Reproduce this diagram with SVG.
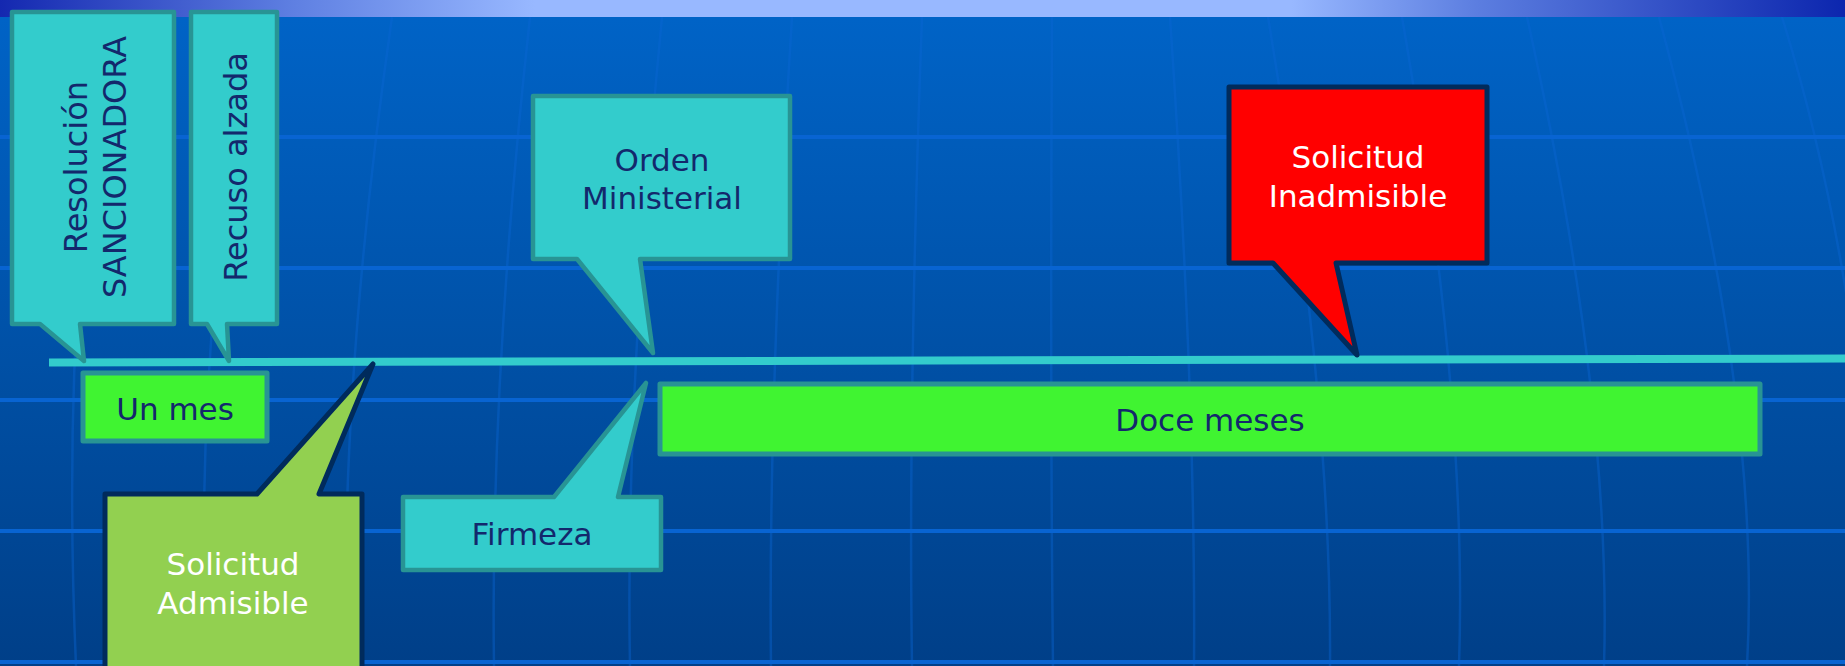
<svg xmlns="http://www.w3.org/2000/svg" width="1845" height="666" viewBox="0 0 1845 666">
  <defs>
    <linearGradient id="bg" x1="0" y1="0" x2="0" y2="1">
      <stop offset="0" stop-color="#0064c8"/>
      <stop offset="1" stop-color="#003f88"/>
    </linearGradient>
    <linearGradient id="band" x1="0" y1="0" x2="1" y2="0">
      <stop offset="0" stop-color="#1428b0"/>
      <stop offset="0.16" stop-color="#5f80e2"/>
      <stop offset="0.29" stop-color="#98b8ff"/>
      <stop offset="0.7" stop-color="#98b8ff"/>
      <stop offset="0.8" stop-color="#5c7ee0"/>
      <stop offset="1" stop-color="#0c26ae"/>
    </linearGradient>
    <style>
      .grid { stroke: #0864d2; stroke-width: 4; fill: none; }
      .mer { stroke: #0a66d4; stroke-width: 2.5; fill: none; opacity: 0.4; }
      .cyan { fill: #33cccc; stroke: #289494; stroke-width: 4.5; stroke-linejoin: round; }
      .green { fill: #40f431; stroke: #289494; stroke-width: 5; stroke-linejoin: round; }
      .dark { stroke: #002b5c; stroke-width: 5; stroke-linejoin: round; }
      .t { font-family: "DejaVu Sans", Verdana, sans-serif; font-size: 31px; text-anchor: middle; fill: #13286c; }
      .tv { font-size: 32px; }
      .w { fill: #ffffff; }
    </style>
  </defs>

  <g id="background">
    <rect x="0" y="0" width="1845" height="666" fill="url(#bg)"/>
    <g id="meridians">
      <path class="mer" d="M110,17 Q60,300 76,666"/>
      <path class="mer" d="M250,17 Q195,330 205,666"/>
      <path class="mer" d="M392,17 Q340,380 346,666"/>
      <path class="mer" d="M530,17 Q490,380 494,666"/>
      <path class="mer" d="M662,17 Q625,400 630,666"/>
      <path class="mer" d="M792,17 Q768,400 771,666"/>
      <path class="mer" d="M922,17 Q908,400 912,666"/>
      <path class="mer" d="M1052,17 Q1050,400 1053,666"/>
      <path class="mer" d="M1170,17 Q1196,400 1194,666"/>
      <path class="mer" d="M1268,17 Q1332,400 1330,666"/>
      <path class="mer" d="M1402,17 Q1468,400 1459,666"/>
      <path class="mer" d="M1527,17 Q1612,400 1604,666"/>
      <path class="mer" d="M1659,17 Q1762,400 1747,666"/>
      <path class="mer" d="M1782,17 Q1870,300 1880,666"/>
    </g>
    <line class="grid" x1="0" y1="137" x2="1845" y2="137"/>
    <line class="grid" x1="0" y1="268" x2="1845" y2="268"/>
    <line class="grid" x1="0" y1="400" x2="1845" y2="400"/>
    <line class="grid" x1="0" y1="531" x2="1845" y2="531"/>
    <line class="grid" x1="0" y1="662" x2="1845" y2="662"/>
    <rect x="0" y="0" width="1845" height="17" fill="url(#band)"/>
  </g>

  <g id="connectors">
    <line id="timeline" x1="49" y1="362.5" x2="1845" y2="358.5" stroke="#33cccc" stroke-width="8"/>
  </g>

  <g id="resolucion">
    <path class="cyan" d="M12,12 H174 V324 H80 L84,361 L40,324 H12 Z"/>
    <text class="t tv" transform="translate(87,167) rotate(-90)"><tspan x="0" y="0">Resolución</tspan><tspan x="0" y="39">SANCIONADORA</tspan></text>
  </g>

  <g id="recuso">
    <path class="cyan" d="M191,12 H277 V324 H227 L229,361 L207,324 H191 Z"/>
    <text class="t tv" transform="translate(247,167) rotate(-90)">Recuso alzada</text>
  </g>

  <g id="un-mes">
    <rect class="green" x="83" y="373" width="184" height="68"/>
    <text class="t" x="175" y="420">Un mes</text>
  </g>

  <g id="solicitud-admisible">
    <path class="dark" fill="#92d050" d="M105,690 V494 H257 L373,364 L319,494 H362 V690"/>
    <text class="t w" x="233" y="575">Solicitud</text>
    <text class="t w" x="233" y="614">Admisible</text>
  </g>

  <g id="orden-ministerial">
    <path class="cyan" d="M533,96 H790 V259 H640 L653,353 L577,259 H533 Z"/>
    <text class="t" x="662" y="171">Orden</text>
    <text class="t" x="662" y="209">Ministerial</text>
  </g>

  <g id="firmeza">
    <path class="cyan" d="M403,497 H554 L646,383 L618,497 H661 V570 H403 Z"/>
    <text class="t" x="532" y="545">Firmeza</text>
  </g>

  <g id="doce-meses">
    <rect class="green" x="660" y="384" width="1100" height="70"/>
    <text class="t" x="1210" y="431">Doce meses</text>
  </g>

  <g id="solicitud-inadmisible">
    <path class="dark" fill="#ff0000" d="M1229,87 H1487 V263 H1336 L1357,355 L1273,263 H1229 Z"/>
    <text class="t w" x="1358" y="168">Solicitud</text>
    <text class="t w" x="1358" y="207">Inadmisible</text>
  </g>
</svg>
